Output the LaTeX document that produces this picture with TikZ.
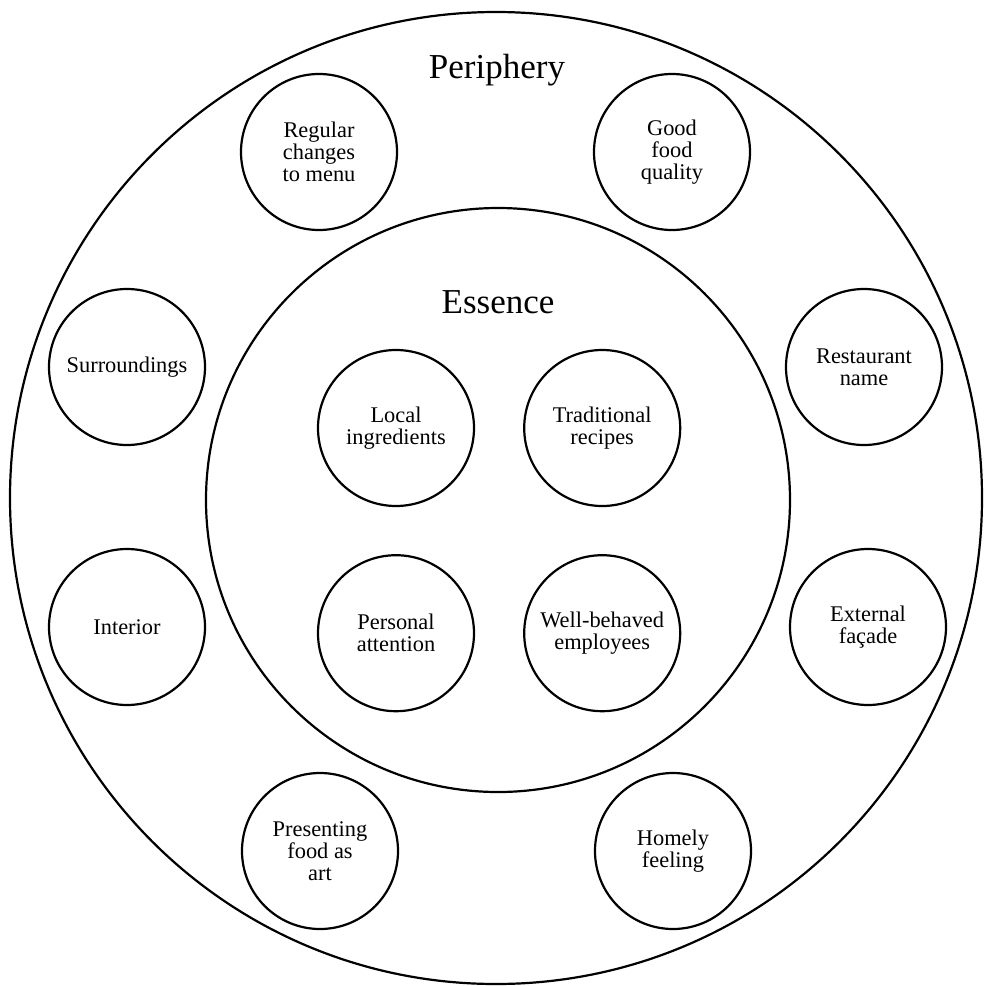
\documentclass[tikz,border=0pt]{standalone}
\usepackage{fontspec}
\setmainfont{Liberation Serif}
\usetikzlibrary{positioning}

\begin{document}
\begin{tikzpicture}[x=0.5pt,y=-0.5pt,font=\fontsize{11.2}{10.9}\selectfont]
\tikzset{ring/.style={draw,circle,line width=1.1pt,inner sep=0pt},
  bubble/.style={ring,minimum size=78pt,align=center},
  ringtitle/.style={anchor=base,font=\fontsize{17.5}{20}\selectfont}}
\useasboundingbox (0,0) rectangle (984,986);

% the two rings
\node[ring,minimum size=486pt] (periphery) at (496,498) {};
\node[ring,minimum size=292pt] (essence) at (498,500) {};
\node[ringtitle] (ptitle) at (497,78) {Periphery};
\node[ringtitle] (etitle) at (498,313) {Essence};

% periphery
\node[bubble] (menu) at (319,152) {Regular\\changes\\to menu};
\node[bubble] (quality) at (672,152) {Good\\food\\quality};
\node[bubble] (surround) at (127,367) {Surroundings};
\node[bubble] (name) at (864,367) {Restaurant\\name};
\node[bubble] (interior) at (127,627) {Interior};
\node[bubble] (facade) at (868,627) {External\\façade};
\node[bubble] (art) at (320,851) {Presenting\\food as\\art};
\node[bubble] (homely) at (673,851) {Homely\\feeling};

% essence
\node[bubble] (local) at (396,428) {Local\\ingredients};
\node[bubble,right=24pt of local] (recipes) {Traditional\\recipes};
\node[bubble,below=23.5pt of local] (attention) {Personal\\attention};
\node[bubble,right=24pt of attention] (staff) {Well-behaved\\employees};
\end{tikzpicture}
\end{document}
